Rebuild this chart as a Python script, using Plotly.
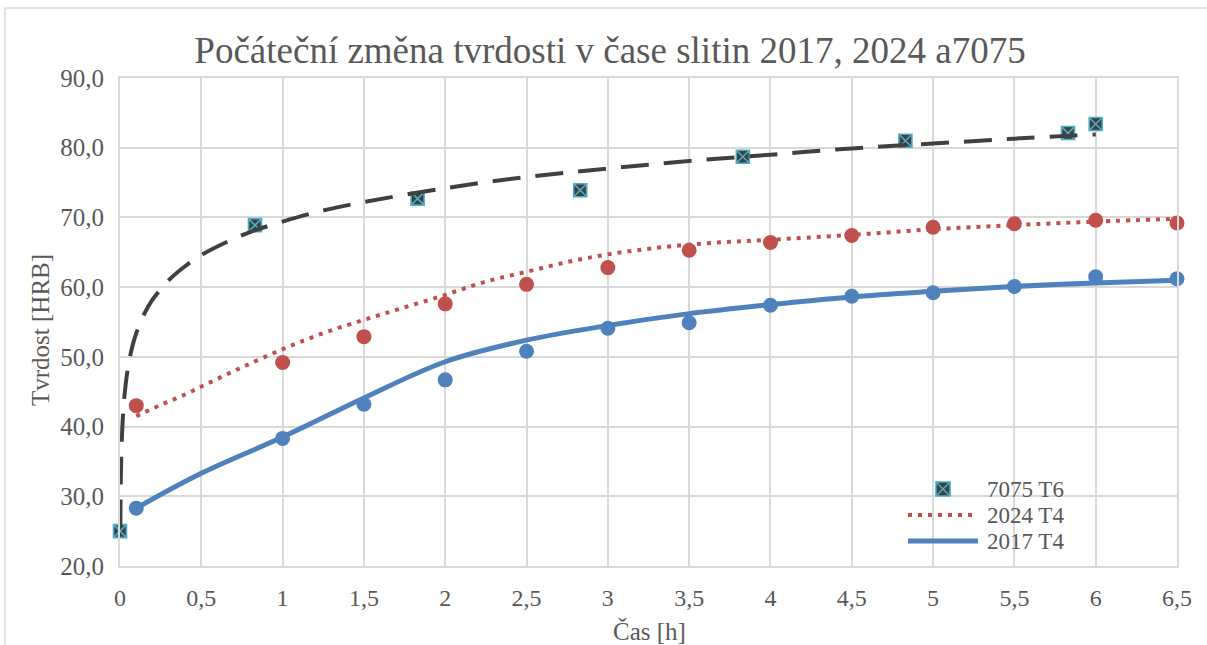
import plotly.graph_objects as go

# ---------------- data ----------------
t6_x = [0, 0.83, 1.83, 2.83, 3.83, 4.83, 5.83, 6.0]
t6_y = [25.0, 68.9, 72.7, 73.9, 78.7, 81.0, 82.1, 83.4]

t4_x = [0.1, 1, 1.5, 2, 2.5, 3, 3.5, 4, 4.5, 5, 5.5, 6, 6.5]
a2024_y = [43.0, 49.2, 52.9, 57.6, 60.4, 62.8, 65.3, 66.4, 67.4, 68.6, 69.1, 69.6, 69.2]
a2017_y = [28.3, 38.3, 43.2, 46.7, 50.8, 54.1, 54.9, 57.4, 58.7, 59.2, 60.1, 61.5, 61.2]

# trend curves
t6_trend_x = [0.002, 0.005, 0.01, 0.02, 0.03, 0.05, 0.075, 0.1, 0.15, 0.2, 0.3, 0.4, 0.5,
              0.65, 0.8, 1.0, 1.25, 1.5, 2, 2.5, 3, 3.5, 4, 4.5, 5, 5.5, 6]
t6_trend_y = [25.5, 32.6, 37.4, 42.2, 45.0, 48.6, 51.4, 53.4, 56.2, 58.2, 61.0, 63.0, 64.6,
              66.4, 67.9, 69.4, 71.0, 72.2, 74.2, 75.8, 77.0, 78.1, 79.0, 79.9, 80.6, 81.3, 81.9]

a2024_trend_x = [0.1, 0.25, 0.4, 0.55, 0.75, 1.0, 1.25, 1.5, 1.75, 2.0, 2.25, 2.5, 2.75,
                 3.0, 3.25, 3.5, 3.75, 4.0, 4.5, 5.0, 5.5, 6.0, 6.5]
a2024_trend_y = [41.5, 43.1, 44.6, 46.3, 48.5, 51.1, 53.4, 55.3, 57.1, 58.9, 60.8, 62.2, 63.6,
                 64.7, 65.5, 66.1, 66.5, 66.8, 67.5, 68.3, 68.9, 69.4, 69.8]

a2017_trend_x = [0.1, 0.5, 1, 1.5, 2, 2.5, 3, 3.5, 4, 4.5, 5, 5.5, 6, 6.5]
a2017_trend_y = [28.3, 33.3, 38.5, 44.1, 49.3, 52.4, 54.5, 56.2, 57.5, 58.6, 59.4, 60.1, 60.6, 61.0]

x_ticks = [0, 0.5, 1, 1.5, 2, 2.5, 3, 3.5, 4, 4.5, 5, 5.5, 6, 6.5]
y_ticks = [20, 30, 40, 50, 60, 70, 80, 90]

title_text = "Počáteční změna tvrdosti v čase slitin 2017, 2024 a7075"
legend_names = ["7075 T6", "2024 T4", "2017 T4"]

# ---------------- styles ----------------
FONT = "Liberation Serif"
GREY = "#595959"
GRID = "#d9d9d9"
C_T6 = "#404040"
C_CYAN = "#4bacc6"
C_RED = "#c0504d"
C_BLUE = "#4f81bd"

W, H = 1207, 645
ML, MR, MT, MB = 120, 30, 78, 79
PW, PH = W - ML - MR, H - MT - MB


def px(x):
    return (x - ML) / PW


def py(y):
    return (H - MB - y) / PH


fig = go.Figure()

# markers
fig.add_trace(go.Scatter(x=t4_x, y=a2024_y, mode="markers", name=legend_names[1],
                         marker=dict(color=C_RED, size=15, line=dict(width=0)),
                         showlegend=False, cliponaxis=False))
fig.add_trace(go.Scatter(x=t4_x, y=a2017_y, mode="markers", name=legend_names[2],
                         marker=dict(color=C_BLUE, size=15, line=dict(width=0)),
                         showlegend=False, cliponaxis=False))
fig.add_trace(go.Scatter(x=t6_x, y=t6_y, mode="markers", name=legend_names[0],
                         marker=dict(symbol="square-x", color=C_T6, size=13,
                                     line=dict(color=C_CYAN, width=1.6)),
                         showlegend=False, cliponaxis=False))

# trend lines
fig.add_trace(go.Scatter(x=t6_trend_x, y=t6_trend_y, mode="lines", line_shape="spline",
                         line=dict(color=C_T6, width=4, dash="28px,15px"),
                         showlegend=False, hoverinfo="skip"))
fig.add_trace(go.Scatter(x=a2024_trend_x, y=a2024_trend_y, mode="lines", line_shape="spline",
                         line=dict(color=C_RED, width=4, dash="4px,6px"),
                         showlegend=False, hoverinfo="skip"))
fig.add_trace(go.Scatter(x=a2017_trend_x, y=a2017_trend_y, mode="lines", line_shape="spline",
                         line=dict(color=C_BLUE, width=5),
                         showlegend=False, hoverinfo="skip"))

shapes = []
annotations = []

# outer chart border (cropped in the reference)
shapes.append(dict(type="rect", xref="paper", yref="paper",
                   x0=px(5), x1=px(1230), y0=py(670), y1=py(8),
                   line=dict(color=GRID, width=1.5), fillcolor="rgba(0,0,0,0)", layer="below"))

# custom legend
leg_rows = [489, 515, 541]
lx0, lx1, ltext = 908, 978, 985
mx, my, ms = 943, leg_rows[0], 7
shapes.append(dict(type="rect", xref="paper", yref="paper",
                   x0=px(mx - ms), x1=px(mx + ms), y0=py(my + ms), y1=py(my - ms),
                   fillcolor=C_T6, line=dict(color=C_CYAN, width=1.6)))
shapes.append(dict(type="line", xref="paper", yref="paper",
                   x0=px(mx - ms), x1=px(mx + ms), y0=py(my + ms), y1=py(my - ms),
                   line=dict(color=C_CYAN, width=1.6)))
shapes.append(dict(type="line", xref="paper", yref="paper",
                   x0=px(mx - ms), x1=px(mx + ms), y0=py(my - ms), y1=py(my + ms),
                   line=dict(color=C_CYAN, width=1.6)))
shapes.append(dict(type="line", xref="paper", yref="paper",
                   x0=px(lx0), x1=px(lx1), y0=py(leg_rows[1]), y1=py(leg_rows[1]),
                   line=dict(color=C_RED, width=4, dash="4px,6px")))
shapes.append(dict(type="line", xref="paper", yref="paper",
                   x0=px(lx0), x1=px(lx1), y0=py(leg_rows[2]), y1=py(leg_rows[2]),
                   line=dict(color=C_BLUE, width=5)))
for name, row in zip(legend_names, leg_rows):
    annotations.append(dict(text=name, xref="paper", yref="paper", x=px(ltext), y=py(row),
                            xanchor="left", yanchor="middle", showarrow=False,
                            font=dict(family=FONT, size=23, color=GREY)))

# axis titles
annotations.append(dict(text="Tvrdost [HRB]", xref="paper", yref="paper", x=px(40), y=py(330),
                        xanchor="center", yanchor="middle", textangle=-90, showarrow=False,
                        font=dict(family=FONT, size=25, color=GREY)))
annotations.append(dict(text="Čas [h]", xref="paper", yref="paper", x=px(649), y=py(631),
                        xanchor="center", yanchor="middle", showarrow=False,
                        font=dict(family=FONT, size=25, color=GREY)))

fig.update_layout(
    width=W, height=H,
    margin=dict(l=ML, r=MR, t=MT, b=MB),
    paper_bgcolor="white", plot_bgcolor="white",
    separators=", ",
    font=dict(family=FONT, color=GREY, size=24),
    title=dict(text=title_text, x=610 / W, xanchor="center", xref="container",
               y=1 - 50 / H, yanchor="middle", yref="container",
               font=dict(family=FONT, size=37, color=GREY)),
    showlegend=False,
    shapes=shapes,
    annotations=annotations,
)

fig.update_xaxes(range=[0, 6.5], tickvals=x_ticks, showgrid=True, gridcolor=GRID, gridwidth=2,
                 showline=True, linecolor=GRID, linewidth=2, mirror=True, zeroline=False,
                 ticks="", tickfont=dict(family=FONT, size=24, color=GREY), ticklabelstandoff=9)
fig.update_yaxes(range=[20, 90], tickvals=y_ticks, tickformat=".1f", showgrid=True,
                 gridcolor=GRID, gridwidth=2, showline=True, linecolor=GRID, linewidth=2,
                 mirror=True, zeroline=False, ticks="",
                 tickfont=dict(family=FONT, size=25, color=GREY), ticklabelstandoff=9)

fig.write_html("out.html", config={"displayModeBar": False},
               post_script="document.body.style.margin='0';document.body.style.overflow='hidden';")
